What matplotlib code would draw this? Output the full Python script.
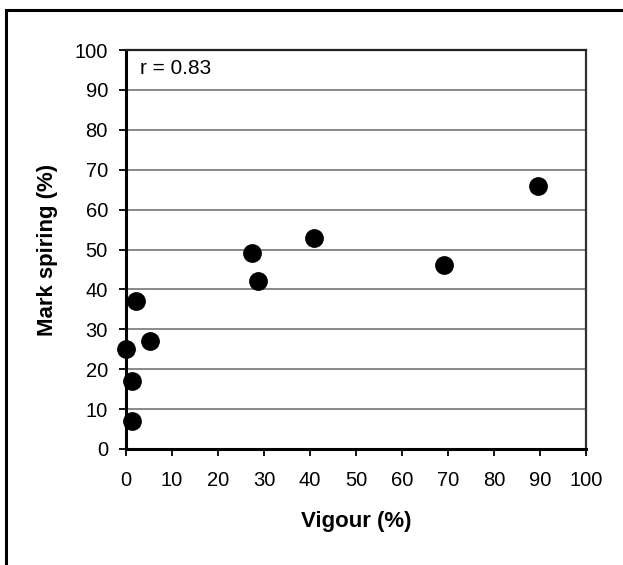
import matplotlib.pyplot as plt
from matplotlib.patches import Rectangle

# Datos
vigour = [0, 1.2, 1.2, 2.2, 5.2, 27.5, 28.7, 40.9, 69.1, 89.6]
mark_spiring = [25, 17, 7, 37, 27, 49, 42, 53, 46, 66]
r_text = "r = 0.83"

plt.rcParams["font.family"] = ["Liberation Sans", "DejaVu Sans"]

W, H = 623, 565
fig = plt.figure(figsize=(W / 100, H / 100), dpi=100)

# marco exterior (se sale por la derecha y por abajo)
fig.patches.append(Rectangle((6 / W, 1 - 575 / H), 640 / W, 565 / H,
                             transform=fig.transFigure, fill=False,
                             edgecolor="black", linewidth=2.2))

ax = fig.add_axes([126 / W, 1 - 449 / H, 460 / W, 399 / H])

ax.scatter(vigour, mark_spiring, s=12.5 ** 2, color="black", zorder=3,
           clip_on=False)

ax.set_xlim(0, 100)
ax.set_ylim(0, 100)
ax.set_xticks(range(0, 101, 10))
ax.set_yticks(range(0, 101, 10))
ax.yaxis.grid(True, color="#808080", linewidth=1.3)
ax.set_axisbelow(True)

for lado in ["left", "bottom"]:
    ax.spines[lado].set_linewidth(2.2)
    ax.spines[lado].set_color("black")
ax.spines["top"].set_linewidth(1.6)
ax.spines["top"].set_color("#202020")
ax.spines["right"].set_linewidth(1.6)
ax.spines["right"].set_color("#303030")

ax.tick_params(axis="both", direction="out", length=5, width=1.3,
               labelsize=14.5, colors="black")
ax.tick_params(axis="x", pad=11)
ax.tick_params(axis="y", pad=8)

ax.set_xlabel("Vigour (%)", fontsize=16, fontweight="bold", va="center")
ax.set_ylabel("Mark spiring (%)", fontsize=16, fontweight="bold",
              va="center")
ax.xaxis.set_label_coords(0.5, -73 / 399)
ax.yaxis.set_label_coords(-79 / 460, 0.5)

ax.text(14 / 460, 1 - 19 / 399, r_text, transform=ax.transAxes,
        fontsize=15, va="center", ha="left")

fig.savefig("out.png", dpi=100)
